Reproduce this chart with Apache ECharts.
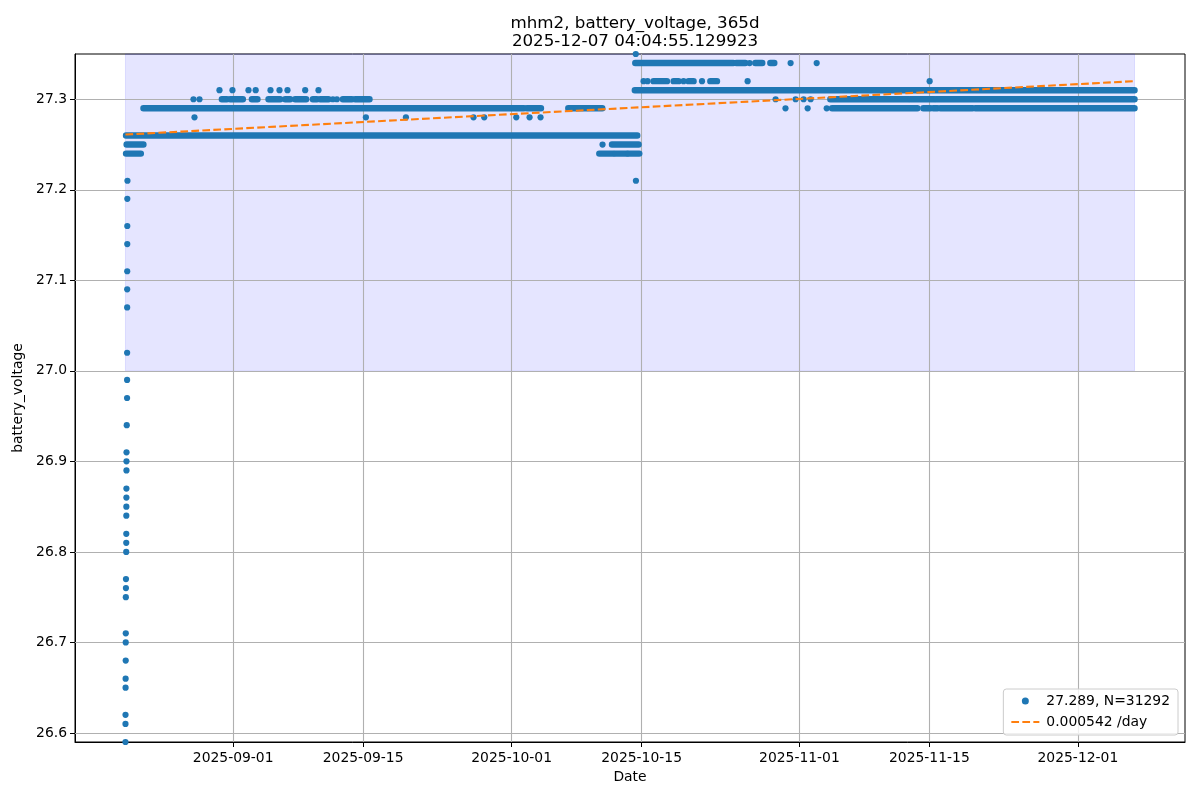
<!DOCTYPE html>
<html><head><meta charset="utf-8">
<script src="https://cdn.jsdelivr.net/npm/echarts@6/dist/echarts.min.js"></script>
<style>html,body{margin:0;padding:0;background:#fff}#c{width:1200px;height:800px}</style>
</head><body><div id="c"></div>
<script>
// ---------- data ----------
const titleText = 'mhm2, battery_voltage, 365d\n2025-12-07 04:04:55.129923';
const seriesLabel = '27.289, N=31292';
const trendLabel = '0.000542 /day';
const dataStart = '2025-08-20T09:30';
const dataEnd = '2025-12-07T02:30';
const trendValues = [27.261, 27.320];          // at dataStart, dataEnd
const shadeRange = [27.0, 27.35];
const yLimits = [26.59, 27.35];
const xTickDates = ['2025-09-01','2025-09-15','2025-10-01','2025-10-15','2025-11-01','2025-11-15','2025-12-01'];
const yTicks = [26.6, 26.7, 26.8, 26.9, 27.0, 27.1, 27.2, 27.3];

// initial ramp (time, value)
const rampPoints = [
 ['2025-08-20T09:30',26.59],['2025-08-20T09:35',26.61],['2025-08-20T09:40',26.62],['2025-08-20T09:50',26.65],
 ['2025-08-20T09:55',26.66],['2025-08-20T10:10',26.68],['2025-08-20T10:15',26.70],['2025-08-20T10:20',26.71],
 ['2025-08-20T10:30',26.75],['2025-08-20T10:45',26.76],['2025-08-20T10:50',26.77],['2025-08-20T11:30',26.80],
 ['2025-08-20T11:35',26.81],['2025-08-20T11:40',26.82],['2025-08-20T11:45',26.84],['2025-08-20T11:50',26.85],
 ['2025-08-20T11:55',26.86],['2025-08-20T12:00',26.87],['2025-08-20T12:05',26.89],['2025-08-20T12:10',26.90],
 ['2025-08-20T12:15',26.91],['2025-08-20T12:50',26.94],['2025-08-20T13:40',26.97],['2025-08-20T13:45',26.99],
 ['2025-08-20T13:50',27.02],['2025-08-20T13:55',27.07],['2025-08-20T14:00',27.09],['2025-08-20T14:05',27.11],
 ['2025-08-20T14:10',27.14],['2025-08-20T14:15',27.16],['2025-08-20T14:20',27.19],['2025-08-20T14:40',27.21]
];
// isolated readings (time, value)
const isolatedPoints = [
 ['2025-08-27T17:20',27.30],['2025-08-28T08:55',27.30],['2025-08-27T20:00',27.28],
 ['2025-08-30T12:35',27.31],['2025-08-31T22:10',27.31],['2025-09-02T15:35',27.31],['2025-09-03T10:10',27.31],
 ['2025-09-05T00:30',27.31],['2025-09-05T23:45',27.31],['2025-09-06T20:25',27.31],['2025-09-08T18:10',27.31],
 ['2025-09-10T04:35',27.31],
 ['2025-09-11T17:50',27.30],['2025-09-12T04:10',27.30],
 ['2025-09-15T07:10',27.28],['2025-09-19T14:40',27.28],['2025-09-26T21:25',27.28],['2025-09-28T01:10',27.28],
 ['2025-10-01T12:00',27.28],['2025-10-02T22:20',27.28],['2025-10-04T02:40',27.28],
 ['2025-10-14T09:20',27.21],['2025-10-10T19:00',27.25],['2025-10-14T08:55',27.35],
 ['2025-10-26T15:20',27.34],['2025-10-31T01:15',27.34],['2025-11-02T20:40',27.34],
 ['2025-10-15T05:05',27.32],['2025-10-15T15:25',27.32],['2025-10-19T12:30',27.32],['2025-10-21T12:10',27.32],
 ['2025-10-26T10:05',27.32],['2025-11-15T00:45',27.32],
 ['2025-10-29T10:30',27.30],['2025-10-31T14:10',27.30],['2025-11-01T10:50',27.30],['2025-11-02T05:00',27.30],
 ['2025-10-30T12:00',27.29],['2025-11-01T21:20',27.29],['2025-11-03T22:35',27.29]
];
// dense runs of readings (from, to, value)
const denseRuns = [
 ['2025-08-20T11:00','2025-10-14T12:45',27.26],
 ['2025-08-22T08:00','2025-10-02T07:55',27.29],
 ['2025-10-02T15:35','2025-10-04T03:50',27.29],
 ['2025-10-07T02:25','2025-10-10T18:20',27.29],
 ['2025-08-20T12:30','2025-08-22T08:00',27.25],
 ['2025-08-20T11:00','2025-08-22T01:20',27.24],
 ['2025-08-30T18:45','2025-08-31T07:40',27.30],
 ['2025-08-31T16:15','2025-09-02T01:05',27.30],
 ['2025-09-03T00:20','2025-09-03T14:50',27.30],
 ['2025-09-04T19:20','2025-09-06T01:35',27.30],
 ['2025-09-06T14:30','2025-09-07T03:25',27.30],
 ['2025-09-07T16:20','2025-09-08T20:45',27.30],
 ['2025-09-09T14:05','2025-09-10T00:30',27.30],
 ['2025-09-10T09:00','2025-09-11T06:25',27.30],
 ['2025-09-12T19:40','2025-09-13T19:00',27.30],
 ['2025-09-14T03:30','2025-09-15T16:30',27.30],
 ['2025-10-10T10:35','2025-10-11T22:50',27.24],
 ['2025-10-12T03:50','2025-10-13T10:05',27.24],
 ['2025-10-13T13:30','2025-10-14T18:00',27.24],
 ['2025-10-11T19:25','2025-10-14T16:20',27.25],
 ['2025-10-14T07:40','2025-10-24T21:05',27.34],
 ['2025-10-25T04:50','2025-10-26T04:05',27.34],
 ['2025-10-27T06:00','2025-10-28T00:00',27.34],
 ['2025-10-28T20:50','2025-10-29T07:10',27.34],
 ['2025-10-16T06:55','2025-10-17T17:35',27.32],
 ['2025-10-18T10:45','2025-10-18T23:35',27.32],
 ['2025-10-20T01:25','2025-10-20T14:25',27.32],
 ['2025-10-22T09:40','2025-10-23T02:55',27.32],
 ['2025-10-14T06:25','2025-12-07T02:30',27.31],
 ['2025-11-04T07:55','2025-11-12T17:45',27.30],
 ['2025-11-12T22:50','2025-11-15T12:55',27.30],
 ['2025-11-15T18:00','2025-12-07T02:30',27.30],
 ['2025-11-04T12:25','2025-11-13T17:00',27.29],
 ['2025-11-14T08:25','2025-11-15T02:35',27.29],
 ['2025-11-15T10:20','2025-11-15T20:40',27.29],
 ['2025-11-16T04:30','2025-11-19T15:10',27.29],
 ['2025-11-19T23:00','2025-12-07T02:30',27.29]
];

// ---------- build chart ----------
const t = s => +echarts.number.parseDate(s);
const FONT = 'DejaVu Sans';
const BLUE = '#1f77b4', ORANGE = '#ff7f0e';
const t0 = t(dataStart), t1 = t(dataEnd);
const pad = (t1 - t0) * 0.05;
const xMin = t0 - pad, xMax = t1 + pad;
const xTickMs = xTickDates.map(t);
const two = n => (n < 10 ? '0' : '') + n;
const fmtDate = v => { const d = new Date(v); return d.getFullYear() + '-' + two(d.getMonth() + 1) + '-' + two(d.getDate()); };

const scatterData = rampPoints.concat(isolatedPoints).map(p => [t(p[0]), p[1]]);
const runData = denseRuns.map(r => [t(r[0]), t(r[1]), r[2]]);

const gridLines = yTicks.map(v => ({yAxis: v})).concat(xTickMs.map(v => ({xAxis: v})));

const chart = echarts.init(document.getElementById('c'), null, {renderer: 'canvas'});
chart.setOption({
  animation: false,
  backgroundColor: '#fff',
  title: {
    text: titleText, left: 630, top: 9, textAlign: 'center',
    textStyle: {fontFamily: FONT, fontSize: 16.7, fontWeight: 'normal', color: '#000', lineHeight: 18.5}
  },
  grid: {left: 75, top: 54, width: 1110, height: 688, show: true, borderColor: '#000', borderWidth: 1, backgroundColor: 'transparent', containLabel: false},
  legend: {
    orient: 'vertical', right: 22, bottom: 65,
    backgroundColor: 'rgba(255,255,255,0.8)', borderColor: '#cccccc', borderWidth: 1, borderRadius: 3,
    padding: [5, 8, 6, 8], itemGap: 7, itemWidth: 28, itemHeight: 7,
    textStyle: {fontFamily: FONT, fontSize: 13.9, color: '#000', padding: [0, 0, 0, 2]},
    data: [
      {name: seriesLabel, icon: 'circle', itemStyle: {color: BLUE}},
      {name: trendLabel, icon: 'path://M0,0h7.7v2h-7.7z M11,0h7.7v2h-7.7z M22,0h6v2h-6z', itemStyle: {color: ORANGE, borderWidth: 0}}
    ]
  },
  xAxis: {
    type: 'value', min: xMin, max: xMax, scale: true,
    name: 'Date', nameLocation: 'middle', nameGap: 28,
    nameTextStyle: {fontFamily: FONT, fontSize: 13.9, color: '#000'},
    axisLine: {show: true, lineStyle: {color: '#000', width: 1}},
    axisTick: {show: true, customValues: xTickMs, length: 5, lineStyle: {color: '#000', width: 1}},
    axisLabel: {customValues: xTickMs, margin: 9, fontFamily: FONT, fontSize: 13.9, color: '#000',
      formatter: v => fmtDate(v)},
    splitLine: {show: false}
  },
  yAxis: {
    type: 'value', min: yLimits[0], max: yLimits[1], scale: true,
    name: 'battery_voltage', nameLocation: 'middle', nameGap: 44, nameRotate: 90,
    nameTextStyle: {fontFamily: FONT, fontSize: 13.9, color: '#000'},
    axisLine: {show: true, lineStyle: {color: '#000', width: 1}},
    axisTick: {show: true, customValues: yTicks, length: 5, lineStyle: {color: '#000', width: 1}},
    axisLabel: {customValues: yTicks, margin: 8, fontFamily: FONT, fontSize: 13.9, color: '#000',
      formatter: v => (+v).toFixed(1)},
    splitLine: {show: false}
  },
  series: [
    {
      name: seriesLabel, type: 'scatter', z: 4, symbol: 'circle', symbolSize: 6.2,
      itemStyle: {color: BLUE, opacity: 1}, data: scatterData, silent: true
    },
    {
      name: seriesLabel, type: 'custom', z: 3, silent: true,
      encode: {x: [0, 1], y: 2},
      renderItem: function (params, api) {
        const a = api.coord([api.value(0), api.value(2)]);
        const b = api.coord([api.value(1), api.value(2)]);
        const r = 3.2;
        return {type: 'rect', shape: {x: a[0] - r, y: a[1] - r, width: b[0] - a[0] + 2 * r, height: 2 * r, r: r},
                style: {fill: BLUE}};
      },
      data: runData
    },
    {
      name: trendLabel, type: 'line', z: 5, silent: true, showSymbol: false, symbol: 'none',
      lineStyle: {color: ORANGE, width: 2.1, type: [7.7, 3.3]},
      itemStyle: {color: ORANGE},
      data: [[t0, trendValues[0]], [t1, trendValues[1]]],
      markArea: {
        silent: true, z: 1,
        itemStyle: {color: 'rgba(0,0,255,0.1)', borderColor: 'rgba(0,0,255,0.1)', borderWidth: 1},
        data: [[{coord: [t0, shadeRange[0]]}, {coord: [t1, shadeRange[1]]}]]
      },
      markLine: {
        silent: true, z: 2, symbol: ['none', 'none'], label: {show: false},
        lineStyle: {color: '#b0b0b0', width: 1.1, type: 'solid'},
        emphasis: {disabled: true},
        data: gridLines
      }
    }
  ]
});
</script>
</body></html>
